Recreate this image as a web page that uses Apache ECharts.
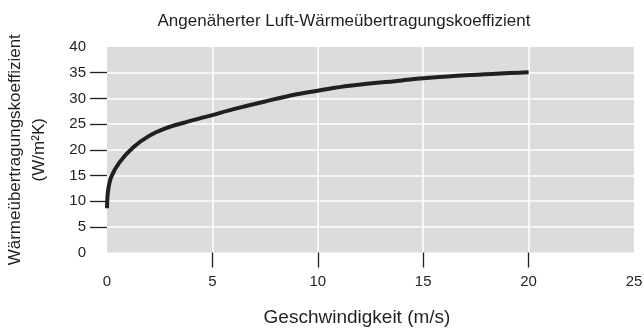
<!DOCTYPE html>
<html>
<head>
<meta charset="utf-8">
<script src="https://cdn.jsdelivr.net/npm/echarts@6/dist/echarts.min.js"></script>
<style>
  html, body { margin: 0; padding: 0; background: #ffffff; }
  #chart { width: 644px; height: 328px; }
</style>
</head>
<body>
<div id="chart"></div>
<script>
// Air speed (m/s) and approximate convective heat transfer coefficient (W/m²K)
const speed = [0, 0.05, 0.2, 0.6, 1.25, 2, 2.8, 3.6, 4.4, 5, 6, 7.5, 9, 10, 11.5, 14, 15, 17, 20];
const coefficient = [8.6, 12, 14.7, 17.6, 20.5, 22.7, 24.2, 25.2, 26.1, 26.75, 27.9, 29.4, 30.8, 31.5, 32.45, 33.5, 33.9, 34.5, 35.1];

const xTicks = [5, 10, 15, 20];
const yTicks = [5, 10, 15, 20, 25, 30, 35];

const titleText = 'Angenäherter Luft-Wärmeübertragungskoeffizient';
const xTitle = 'Geschwindigkeit (m/s)';
const yTitle = 'Wärmeübertragungskoeffizient\n(W/m²K)';

const ink = '#231f20';
const font = '"Liberation Sans", Arial, Helvetica, sans-serif';

const chart = echarts.init(document.getElementById('chart'), null, { renderer: 'canvas' });

chart.setOption({
  animation: false,
  backgroundColor: '#ffffff',
  textStyle: { fontFamily: font, color: ink },
  title: {
    text: titleText,
    left: 339, top: 8,
    textAlign: 'center',
    textStyle: { fontFamily: font, fontSize: 17, fontWeight: 'normal', color: ink }
  },
  grid: {
    left: 107, right: 10, top: 47, bottom: 75.5,
    outerBoundsMode: 'none',
    containLabel: false,
    show: true, backgroundColor: '#dcdcde', borderWidth: 0
  },
  xAxis: {
    type: 'value',
    min: 0, max: 25, interval: 5,
    name: xTitle,
    nameLocation: 'middle',
    nameGap: 56,
    nameTextStyle: { fontFamily: font, fontSize: 19, color: ink, padding: [0, 27, 0, 0] },
    axisLine: { show: false },
    axisTick: { show: true, customValues: xTicks, length: 15, lineStyle: { color: ink, width: 1.3 } },
    axisLabel: { margin: 22, fontFamily: font, fontSize: 15, color: ink },
    splitLine: { show: true, lineStyle: { color: '#ffffff', width: 1.5 } }
  },
  yAxis: {
    type: 'value',
    min: 0, max: 40, interval: 5,
    name: yTitle,
    nameLocation: 'middle',
    nameGap: 56,
    nameRotate: 90,
    nameTextStyle: { fontFamily: font, fontSize: 17, color: ink, lineHeight: 24, align: 'center' },
    axisLine: { show: false },
    axisTick: { show: true, customValues: yTicks, length: 17, lineStyle: { color: ink, width: 1.3 } },
    axisLabel: { margin: 21, fontFamily: font, fontSize: 15, color: ink },
    splitLine: { show: true, lineStyle: { color: '#ffffff', width: 1.5 } }
  },
  series: [{
    type: 'line',
    data: speed.map((v, i) => [v, coefficient[i]]),
    showSymbol: false,
    smooth: 0.35,
    lineStyle: { color: ink, width: 4, cap: 'butt' }
  }]
});
</script>
</body>
</html>
